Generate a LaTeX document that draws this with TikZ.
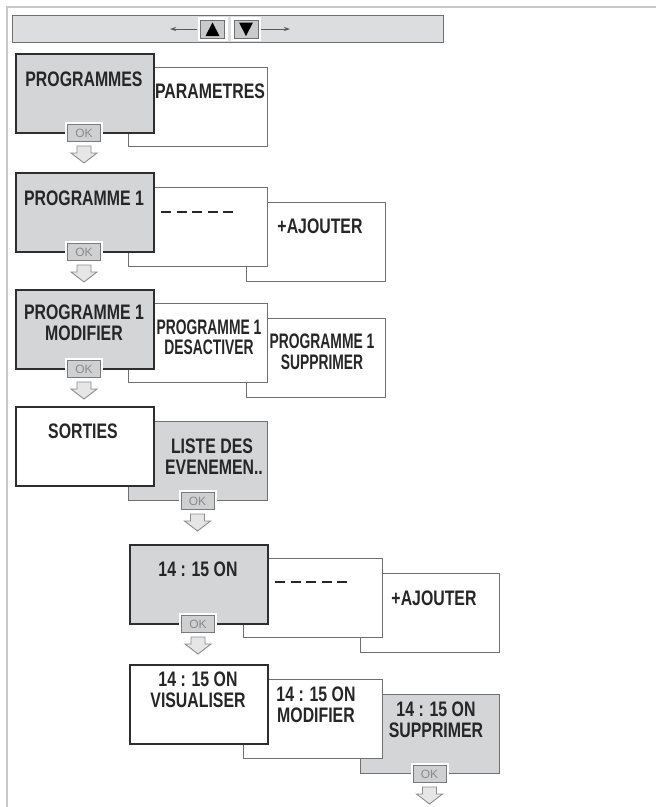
\documentclass[tikz,border=0pt]{standalone}
\usepackage{fontspec}
\setmainfont{Liberation Sans}
\newfontfamily\condA[FakeStretch=0.755]{Liberation Sans Bold}
\newfontfamily\condB[FakeStretch=0.66]{Liberation Sans Bold}
\usetikzlibrary{arrows.meta}
\definecolor{boxgray}{HTML}{D4D5D7}
\definecolor{bargray}{HTML}{DCDDDF}
\definecolor{edgedark}{HTML}{2E2E2E}
\definecolor{edgegray}{HTML}{707070}
\definecolor{okgray}{HTML}{CFD0D2}
\definecolor{okedge}{HTML}{7A7A7A}
\definecolor{oktext}{HTML}{8A8A8A}
\definecolor{arrfill}{HTML}{E6E6E6}
\definecolor{arredge}{HTML}{8C8C8C}
\definecolor{framegray}{HTML}{C8C8C8}
\definecolor{btngray}{HTML}{C9CACC}
\definecolor{txt}{HTML}{262626}
\begin{document}
\begin{tikzpicture}[x=1pt,y=-1pt,
 frontbox/.style={draw=edgedark, line width=1.6pt, fill=boxgray, minimum width=138pt, minimum height=79pt, anchor=north west, inner sep=0pt},
 frontwhite/.style={frontbox, fill=white},
 backbox/.style={draw=edgegray, line width=1.1pt, fill=white, minimum width=139pt, minimum height=79pt, anchor=north west, inner sep=0pt},
 backgray/.style={backbox, fill=boxgray},
 lbl/.style={font=\condA\fontsize{21}{23}\selectfont, text=txt, anchor=base, inner sep=0pt},
 lblc/.style={lbl, font=\condB\fontsize{21}{23}\selectfont},
 okbtn/.style={draw=okedge, line width=0.9pt, fill=okgray, minimum width=33pt, minimum height=17pt, inner sep=0pt, font=\fontsize{12}{12}\selectfont, text=oktext, preaction={draw=white, line width=5pt}},
 btn/.style={draw=edgegray, line width=0.9pt, fill=btngray, minimum width=24pt, minimum height=18pt, inner sep=0pt, preaction={draw=white, line width=6pt}},
 dashline/.style={draw=txt, line width=2.8pt, dash pattern=on 10pt off 5.5pt},
 navarrow/.style={draw=black!65, line width=0.8pt, -{Stealth[length=6pt,width=4pt]}},
 downarrow/.pic={\path[draw=arredge, fill=arrfill, line width=0.9pt, line join=miter] (-7,0) -- (7,0) -- (7,7) -- (13,7) -- (0,17) -- (-13,7) -- (-7,7) -- cycle;},
]
\useasboundingbox[fill=white] (0,0) rectangle (656,807);
% frame
\draw[framegray, line width=1.5pt] (7,807) -- (7,7) -- (656,7);
% navigation bar
\node[draw=edgegray, line width=1pt, fill=bargray, minimum width=431pt, minimum height=27pt, anchor=north west, inner sep=0pt] (bar) at (12,15) {};
\node[btn] (up) at (212.5,29) {};
\node[btn] (dn) at (246,29) {};
\fill[black] ([shift={(-7,7)}]up.center) -- ([shift={(7,7)}]up.center) -- ([shift={(0,-6.5)}]up.center) -- cycle;
\fill[black] ([shift={(-7,-6.5)}]dn.center) -- ([shift={(7,-6.5)}]dn.center) -- ([shift={(0,7)}]dn.center) -- cycle;
\coordinate (lend) at (170,29);
\coordinate (rend) at (290,29);
\draw[navarrow] ([xshift=-3pt]up.west) -- (lend);
\draw[navarrow] ([xshift=3pt]dn.east) -- (rend);
% row 1
\node[backbox] (r1b) at (128,67) {};
\node[frontbox] (r1a) at (15,53) {};
\node[okbtn] (ok1) at (84,133) {OK};
\pic at (84,146) {downarrow};
\node[lbl] (t1a) at (84,86) {PROGRAMMES};
\node[lbl] (t1b) at (210,98) {PARAMETRES};
% row 2
\node[backbox] (r2c) at (246,202) {};
\node[backbox] (r2b) at (128,187) {};
\node[frontbox] (r2a) at (15,172) {};
\node[okbtn] (ok2) at (84,252) {OK};
\pic at (84,265) {downarrow};
\node[lbl] (t2a) at (84,205) {PROGRAMME 1};
\coordinate (d2s) at (161,212);
\coordinate (d2e) at (233,212);
\draw[dashline] (d2s) -- (d2e);
\node[lbl] (t2c) at (320,233) {+AJOUTER};
% row 3
\node[backbox] (r3c) at (246,318) {};
\node[backbox] (r3b) at (128,303) {};
\node[frontbox] (r3a) at (15,289) {};
\node[okbtn] (ok3) at (84,369) {OK};
\pic at (84,382) {downarrow};
\node[lbl] (t3a1) at (84,319) {PROGRAMME 1};
\node[lbl] (t3a2) at (84,340) {MODIFIER};
\node[lblc] (t3b1) at (209,334) {PROGRAMME 1};
\node[lblc] (t3b2) at (209,354) {DESACTIVER};
\node[lblc] (t3c1) at (322,348) {PROGRAMME 1};
\node[lblc] (t3c2) at (322,369) {SUPPRIMER};
% row 4
\node[backgray] (r4b) at (128,421) {};
\node[frontwhite] (r4a) at (15,406) {};
\node[okbtn] (ok4) at (197.5,501) {OK};
\pic at (197.5,514) {downarrow};
\node[lbl] (t4a) at (83,438) {SORTIES};
\node[lbl] (t4b1) at (212,453) {LISTE DES};
\node[lbl] (t4b2) at (214,474) {EVENEMEN..};
% row 5
\node[backbox] (r5c) at (360,573) {};
\node[backbox] (r5b) at (243,558) {};
\node[frontbox] (r5a) at (129,544) {};
\node[okbtn] (ok5) at (198,624) {OK};
\pic at (198,637) {downarrow};
\node[lbl] (t5a) at (198,576) {14 : 15 ON};
\coordinate (d5s) at (275,582);
\coordinate (d5e) at (347,582);
\draw[dashline] (d5s) -- (d5e);
\node[lbl] (t5c) at (434,605) {+AJOUTER};
% row 6
\node[backgray] (r6c) at (360,694) {};
\node[backbox] (r6b) at (243,679) {};
\node[frontwhite] (r6a) at (129,664) {};
\node[okbtn] (ok6) at (429.5,774) {OK};
\pic at (429.5,787) {downarrow};
\node[lbl] (t6a1) at (198,686) {14 : 15 ON};
\node[lbl] (t6a2) at (198,707) {VISUALISER};
\node[lbl] (t6b1) at (316,701) {14 : 15 ON};
\node[lbl] (t6b2) at (316,722) {MODIFIER};
\node[lbl] (t6c1) at (436,716) {14 : 15 ON};
\node[lbl] (t6c2) at (436,737) {SUPPRIMER};
\end{tikzpicture}
\end{document}
